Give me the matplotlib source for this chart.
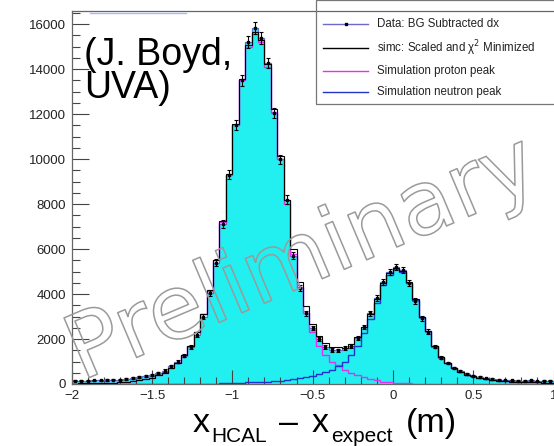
import numpy as np
import matplotlib
matplotlib.use("Agg")
import matplotlib.pyplot as plt
from matplotlib import patheffects
from matplotlib.lines import Line2D
from matplotlib.patches import Rectangle
from matplotlib.ticker import MultipleLocator

# ---------------- data ----------------
bin_edges = np.round(np.arange(-2.0, 1.0001, 0.04), 4)   # 75 bins

data_counts = [140, 150, 150, 160, 170, 180, 190, 200, 230, 260,
               300, 350, 410, 490, 600, 780, 990, 1250, 1650, 2200,
               3000, 4050, 5400, 7100, 9300, 11500, 13500, 15200, 15820, 15380,
               14270, 12050, 10000, 8200, 5700, 4250, 3150, 2480, 2000, 1640,
               1510, 1500, 1600, 1700, 2040, 2530, 3150, 3820, 4530, 4990,
               5210, 5070, 4490, 3700, 2930, 2330, 1660, 1160, 930, 710,
               560, 440, 370, 300, 250, 220, 190, 170, 160, 150,
               140, 160, 130, 150, 140]

data_errors = [24, 24, 24, 25, 26, 27, 28, 28, 30, 32,
               35, 37, 40, 44, 49, 56, 63, 71, 81, 94,
               110, 127, 147, 169, 193, 214, 232, 247, 252, 248,
               239, 220, 200, 181, 151, 130, 112, 100, 89, 81,
               78, 77, 80, 82, 90, 101, 112, 124, 135, 141,
               144, 142, 134, 122, 108, 97, 81, 68, 61, 53,
               47, 42, 38, 35, 32, 30, 28, 26, 25, 24,
               24, 25, 23, 24, 24]

proton_sim = [20, 25, 30, 35, 40, 50, 60, 75, 95, 120,
              160, 210, 280, 380, 510, 700, 950, 1280, 1700, 2300,
              3100, 4150, 5500, 7200, 9300, 11500, 13500, 15000, 15550, 15200,
              14100, 12100, 10000, 8000, 5800, 4300, 3150, 2300, 1700, 1300,
              1000, 850, 620, 490, 380, 290, 220, 160, 110, 75,
              50, 35, 25, 15, 10, 5, 3, 2, 1, 0,
              0, 0, 0, 0, 0, 0, 0, 0, 0, 0,
              0, 0, 0, 0, 0]

neutron_sim = [0, 0, 0, 0, 0, 0, 0, 0, 0, 0,
               0, 0, 0, 0, 0, 0, 0, 0, 0, 0,
               0, 10, 20, 30, 40, 50, 60, 70, 80, 95,
               110, 130, 150, 180, 210, 250, 300, 360, 430, 520,
               640, 790, 1000, 1280, 1700, 2250, 2900, 3600, 4400, 4850,
               5100, 5000, 4500, 3750, 2980, 2350, 1700, 1200, 920, 700,
               540, 420, 340, 270, 220, 180, 150, 130, 110, 100,
               90, 80, 70, 65, 60]

x_ticks = [-2, -1.5, -1, -0.5, 0, 0.5, 1]
x_ticklabels = ["\u22122", "\u22121.5", "\u22121", "\u22120.5", "0", "0.5", "1"]
y_ticks = [0, 2000, 4000, 6000, 8000, 10000, 12000, 14000, 16000]

legend_labels = ["Data: BG Subtracted dx",
                 "simc: Scaled and \u03c7$^{2}$ Minimized",
                 "Simulation proton peak",
                 "Simulation neutron peak"]

# ---------------- style ----------------
W, H = 554, 446
plt.rcParams['font.family'] = ['Liberation Sans', 'DejaVu Sans']
fig = plt.figure(figsize=(W / 100, H / 100), dpi=100)

def fx(px):
    return px / W

def fy(py):
    return 1 - py / H

ax = fig.add_axes([fx(71.7), fy(384), fx(553.5) - fx(71.7), fy(11) - fy(384)])

edges = np.array(bin_edges)
centers = 0.5 * (edges[1:] + edges[:-1])
data = np.array(data_counts, float)
prot = np.array(proton_sim, float)
neut = np.array(neutron_sim, float)
total = prot + neut

cyan = '#22f0f0'
data_line = '#6a6acf'
prot_col = '#dd33ee'
neut_col = '#2233cc'

ax.stairs(data, edges, fill=True, color=cyan, zorder=1, baseline=0)
ax.stairs(data, edges, color=data_line, lw=0.9, zorder=2)
ax.stairs(prot, edges, color=prot_col, lw=1.0, zorder=3)
ax.stairs(neut, edges, color=neut_col, lw=1.0, zorder=3)
ax.stairs(total, edges, color='black', lw=0.8, zorder=4)
ax.errorbar(centers, data, yerr=data_errors, fmt='s', ms=2.1, color='black',
            ecolor='black', elinewidth=0.8, capsize=1.5, capthick=0.8, zorder=5)

ax.set_xlim(-2, 1)
ax.set_ylim(0, 16580)
ax.set_xticks(x_ticks)
ax.set_xticklabels(x_ticklabels)
ax.set_yticks(y_ticks)
ax.set_yticklabels([str(v) for v in y_ticks])
ax.xaxis.set_minor_locator(MultipleLocator(0.1))
ax.yaxis.set_minor_locator(MultipleLocator(500))
ax.tick_params(axis='both', which='both', direction='in', colors='#444444',
               labelcolor='#222222', labelsize=9.5, top=False, right=False)
ax.tick_params(axis='x', which='major', length=10, pad=4, width=0.8)
ax.tick_params(axis='x', which='minor', length=5, width=0.8)
ax.tick_params(axis='y', which='major', length=12, pad=4, width=0.8)
ax.tick_params(axis='y', which='minor', length=6, width=0.8)
for s in ['left', 'bottom', 'top']:
    ax.spines[s].set_color('#666666')
    ax.spines[s].set_linewidth(0.9)
ax.spines['right'].set_visible(False)

# watermark
ax.text(-0.56, 5500, "Preliminary", rotation=23, ha='center', va='center',
        fontsize=64, family='DejaVu Sans', color=(1, 1, 1, 0),
        path_effects=[patheffects.withStroke(linewidth=1.1, foreground='#9a9a9a')],
        zorder=10, rotation_mode='anchor')

# author text (two lines in one text object; baseline = last line)
fig.text(fx(84), fy(98), "(J. Boyd,\nUVA)", fontsize=27, ha='left', va='baseline',
         linespacing=0.9, color='black')

# short light line top-left
fig.add_artist(Line2D([fx(90), fx(186)], [fy(13), fy(13)], color='#aabbee', lw=1.0))

# legend (manual)
fig.add_artist(Rectangle((fx(316), fy(104)), fx(560) - fx(316), fy(0) - fy(104),
                         fill=False, edgecolor='#777777', lw=0.9))
leg_y = [24, 48, 71, 92]
leg_cols = [data_line, 'black', prot_col, neut_col]
for yy, lab, col in zip(leg_y, legend_labels, leg_cols):
    fig.add_artist(Line2D([fx(323), fx(368)], [fy(yy), fy(yy)], color=col, lw=1.0))
    fig.text(fx(377), fy(yy), lab, fontsize=8.3, ha='left', va='center', color='#222222')
fig.add_artist(Line2D([fx(345.5)], [fy(24)], marker='s', ms=2.0, color='black'))

# x-axis label pieces
base = 432
sub = 442
fig.text(fx(193), fy(base), "x", fontsize=24.5, ha='left', va='baseline')
fig.text(fx(211), fy(sub), "HCAL", fontsize=15, ha='left', va='baseline')
fig.text(fx(279), fy(base), "\u2013", fontsize=24.5, ha='left', va='baseline')
fig.text(fx(312), fy(base), "x", fontsize=24.5, ha='left', va='baseline')
fig.text(fx(331), fy(sub), "expect", fontsize=15, ha='left', va='baseline')
fig.text(fx(406), fy(base), "(m)", fontsize=24.5, ha='left', va='baseline')

fig.savefig("out.png", dpi=100)
